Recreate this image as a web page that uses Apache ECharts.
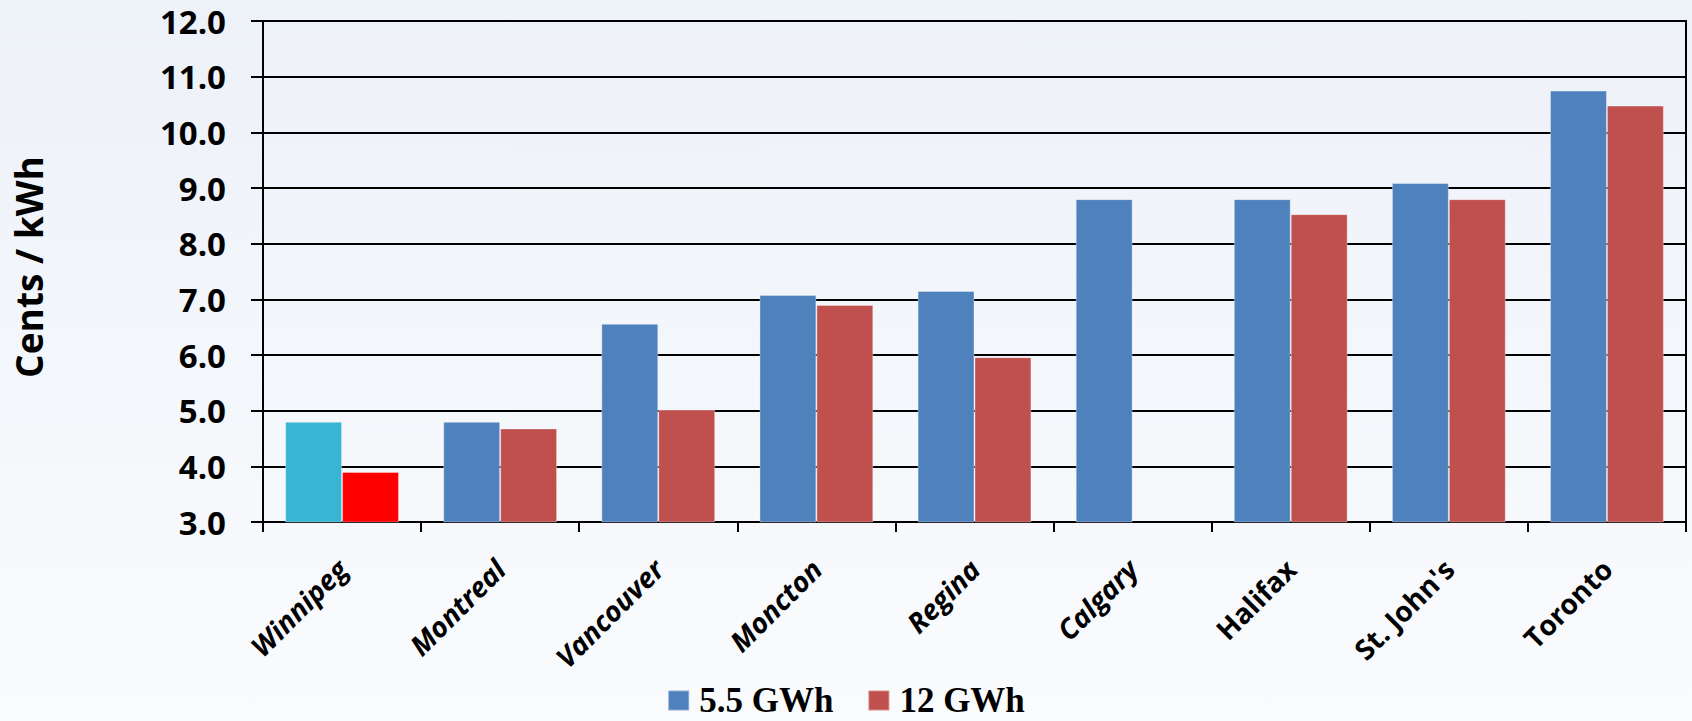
<!DOCTYPE html>
<html>
<head>
<meta charset="utf-8">
<title>Electricity rates by city</title>
<script src="https://cdn.jsdelivr.net/npm/echarts@6/dist/echarts.min.js"></script>
<style>
  html, body { margin: 0; padding: 0; }
  #chart {
    width: 1692px;
    height: 721px;
    background: linear-gradient(to bottom, #edf1f8 0%, #f4f7fb 55%, #fafbfd 100%);
  }
</style>
</head>
<body>
<div id="chart"></div>
<script>
// Cities along the x axis
const cities = ['Winnipeg', 'Montreal', 'Vancouver', 'Moncton', 'Regina', 'Calgary', 'Halifax', "St. John's", 'Toronto'];
// Rate in cents per kWh at each consumption level
const rate55GWh = [4.8, 4.8, 6.56, 7.08, 7.15, 8.8, 8.8, 9.09, 10.75];
const rate12GWh = [3.9, 4.68, 5.02, 6.9, 5.96, null, 8.53, 8.8, 10.48];
// Tick labels on the value axis
const yTicks = ['3.0', '4.0', '5.0', '6.0', '7.0', '8.0', '9.0', '10.0', '11.0', '12.0'];

const BLUE = '#4f81bd';
const RED = '#c0504d';
// Winnipeg is highlighted with its own colours
const HOME_BLUE = '#39b5d4';
const HOME_RED = '#ff0000';
const italicCities = new Set(['Winnipeg', 'Montreal', 'Vancouver', 'Moncton', 'Regina', 'Calgary']);

function barData(values, homeColor) {
  return values.map((v, i) => i === 0
    ? { value: v, itemStyle: { color: homeColor } }
    : v);
}

const chart = echarts.init(document.getElementById('chart'), null, { renderer: 'svg' });

chart.setOption({
  animation: false,
  grid: { left: 263, right: 6, top: 21, bottom: 199, show: true, borderColor: '#000', borderWidth: 2 },
  graphic: [{
    type: 'text',
    x: 28,
    y: 267,
    rotation: Math.PI / 2,
    style: {
      text: 'Cents / kWh',
      fontFamily: 'Open Sans',
      fontWeight: 'bold',
      fontSize: 37,
      fill: '#000',
      align: 'center',
      verticalAlign: 'middle'
    }
  }],
  legend: {
    top: 683,
    left: 'center',
    padding: 0,
    itemWidth: 21,
    itemHeight: 20,
    itemGap: 34,
    icon: 'rect',
    textStyle: {
      fontFamily: 'Liberation Serif',
      fontWeight: 'bold',
      fontSize: 35,
      lineHeight: 34,
      color: '#000',
      padding: [0, 0, 0, 5]
    },
    data: [
      { name: '5.5 GWh', itemStyle: { color: BLUE } },
      { name: '12 GWh', itemStyle: { color: RED } }
    ]
  },
  xAxis: {
    type: 'category',
    data: cities,
    axisLine: { lineStyle: { color: '#000', width: 2 } },
    axisTick: { show: true, length: 10, lineStyle: { color: '#000', width: 2 } },
    axisLabel: {
      rotate: 45,
      margin: 42,
      interval: 0,
      formatter: (name) => italicCities.has(name) ? '{it|' + name + '}' : '{up|' + name + '}',
      rich: {
        it: { fontFamily: 'Open Sans', fontWeight: 'bold', fontStyle: 'italic', fontSize: 28, color: '#000' },
        up: { fontFamily: 'Open Sans', fontWeight: 'bold', fontSize: 28, color: '#000' }
      }
    }
  },
  yAxis: {
    type: 'value',
    min: 3,
    max: 12,
    interval: 1,
    axisLine: { show: true, lineStyle: { color: '#000', width: 2 } },
    axisTick: { show: true, length: 12, lineStyle: { color: '#000', width: 2 } },
    splitLine: { lineStyle: { color: '#000', width: 2 } },
    axisLabel: {
      margin: 37,
      fontFamily: 'Open Sans',
      fontWeight: 'bold',
      fontSize: 33,
      color: '#000',
      formatter: (v) => yTicks[Math.round(v - 3)]
    }
  },
  series: [
    {
      name: '5.5 GWh',
      type: 'bar',
      data: barData(rate55GWh, HOME_BLUE),
      barGap: '0%',
      barCategoryGap: '28%',
      itemStyle: { color: BLUE, borderColor: 'rgba(255,255,255,0.35)', borderWidth: 1 }
    },
    {
      name: '12 GWh',
      type: 'bar',
      data: barData(rate12GWh, HOME_RED),
      barGap: '0%',
      barCategoryGap: '28%',
      itemStyle: { color: RED, borderColor: 'rgba(255,255,255,0.35)', borderWidth: 1 }
    }
  ]
});
</script>
</body>
</html>
